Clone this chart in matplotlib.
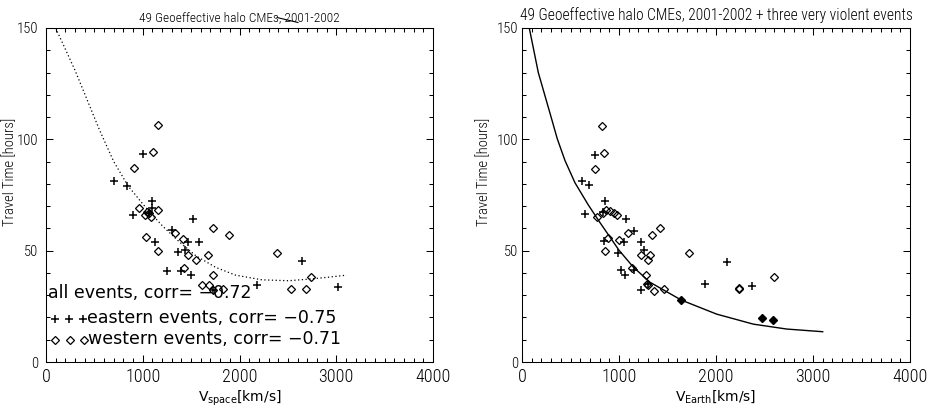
import numpy as np
import matplotlib
matplotlib.use("Agg")
import matplotlib.pyplot as plt
from matplotlib.lines import Line2D
from matplotlib import font_manager

plt.rcParams['font.family'] = ['DejaVu Sans']

# narrow face for the axis texts, if one is installed
names = {f.name for f in font_manager.fontManager.ttflist}
narrow = [n for n in ['Liberation Sans Narrow', 'DejaVu Sans Condensed',
                      'Roboto Condensed', 'Open Sans Condensed'] if n in names]
NFONT = narrow[:1] + ['DejaVu Sans']

# ---- left panel: v_space vs travel time (hours)
left_east_v = [1006, 703, 837, 1096, 1096, 896, 1060, 1519, 1302, 1127, 1464,
               1581, 1361, 1437, 2650, 1247, 1392, 1499, 2184, 3018, 1726]
left_east_t = [93.5, 81.4, 79.1, 72.5, 69.0, 66.2, 67.0, 64.4, 59.3, 54.1, 54.1,
               54.1, 49.2, 50.3, 45.2, 41.0, 41.0, 39.0, 34.8, 33.9, 32.3]
left_west_v = [1154, 1109, 913, 965, 1158, 1041, 1068, 1082, 1723, 1892, 1337,
               1034, 1419, 1154, 1468, 1678, 1554, 2388, 1426, 1730, 1616, 1688,
               2739, 1833, 1726, 2536, 2684, 1020]
left_west_t = [106.3, 94.3, 87.2, 69.2, 68.3, 67.3, 66.8, 65.3, 60.2, 57.1, 58.1,
               56.2, 55.1, 50.0, 48.0, 48.2, 45.9, 49.0, 42.0, 39.0, 34.8, 34.8,
               38.0, 33.0, 32.3, 33.0, 33.0, 66.0]
# dotted fit curve
left_fit_v = [100, 300, 555, 700, 850, 1000, 1100, 1206, 1377, 1549, 1754,
              1960, 2233, 2508, 2713, 2900, 3107]
left_fit_t = [150, 131, 104, 90, 79, 71, 66, 61, 54, 47.7, 42.5,
              39.0, 36.9, 36.5, 37.2, 38.0, 39.0]

# ---- right panel: v_earth vs travel time
right_east_v = [756, 615, 691, 859, 653, 1072, 1155, 845, 1052, 1223, 1258,
                990, 2117, 1017, 1155, 1065, 1223, 1887, 2371, 1296, 832]
right_east_t = [93.1, 81.2, 79.3, 72.2, 66.3, 64.0, 58.8, 54.3, 54.0, 54.0, 50.2,
                48.8, 45.1, 41.2, 41.2, 39.0, 32.2, 35.1, 34.2, 34.9, 67.5]
right_west_v = [825, 845, 756, 773, 832, 866, 907, 952, 983, 1093, 1343, 1423,
                883, 1003, 856, 1223, 1320, 1296, 1718, 1137, 1275, 1292, 1300,
                1467, 1361, 2240, 2240, 2598]
right_west_t = [106.0, 94.0, 86.9, 65.2, 67.0, 68.2, 67.8, 67.0, 65.8, 57.9, 57.0,
                60.0, 55.8, 54.8, 49.9, 48.1, 48.1, 45.8, 49.1, 42.0, 39.0, 34.9,
                34.8, 33.0, 32.1, 33.0, 33.3, 38.1]
violent_v = [1639, 2474, 2584]
violent_t = [27.9, 19.8, 18.9]
right_fit_v = [75, 168, 296, 364, 443, 546, 684, 804, 1000, 1148, 1320, 1643,
               2007, 2385, 2729, 3100]
right_fit_t = [150, 130, 110.6, 100.2, 90.5, 80.5, 70.5, 62.6, 50.2, 42.6, 35.8,
               27.8, 21.5, 17.0, 14.8, 13.6]

W, H = 934, 409
fig = plt.figure(figsize=(W / 100, H / 100), dpi=100)
ax1 = fig.add_axes([46 / W, 1 - 362 / H, 387 / W, 334 / H])
ax2 = fig.add_axes([522 / W, 1 - 362 / H, 388 / W, 334 / H])

plus_kw = dict(ls='none', marker='+', ms=5.5, mew=1.1, color='k')
diam_kw = dict(ls='none', marker='D', ms=3.6, mew=0.9, mfc='none', mec='k')
if narrow:
    ysize, xsize, lsize, t1size, t2size = 10.5, 13, 10.5, 9.6, 11.2
else:
    ysize, xsize, lsize, t1size, t2size = 9, 10.5, 8.5, 7.2, 8.2
TW = 'light'


def style_axes(ax, ypad):
    ax.set_xlim(0, 4000)
    ax.set_ylim(0, 150)
    ax.set_xticks([0, 1000, 2000, 3000, 4000])
    ax.set_yticks([0, 50, 100, 150])
    ax.set_xticks(np.arange(0, 4001, 100), minor=True)
    ax.set_yticks(np.arange(0, 151, 10), minor=True)
    ax.tick_params(which='both', direction='in', top=True, right=True,
                   width=0.75)
    ax.tick_params(which='major', length=5)
    ax.tick_params(which='minor', length=2.8)
    ax.tick_params(axis='x', pad=4.5)
    ax.tick_params(axis='y', pad=ypad)
    for lab in ax.get_yticklabels():
        lab.set_family(NFONT)
        lab.set_fontsize(ysize)
        lab.set_fontweight(TW)
    for lab in ax.get_xticklabels():
        lab.set_family(NFONT)
        lab.set_fontsize(xsize)
        lab.set_fontweight(TW)
    for s in ax.spines.values():
        s.set_linewidth(0.75)
    ax.set_ylabel('Travel Time [hours]', fontsize=lsize, family=NFONT,
                  fontweight=TW)


# left
style_axes(ax1, 5.8)
ax1.plot(left_fit_v, left_fit_t, color='k', lw=0.9, ls=(0, (1, 2)))
ax1.plot(left_east_v, left_east_t, **plus_kw)
ax1.plot(left_west_v, left_west_t, **diam_kw)
ax1.set_title('49 Geoeffective halo CMEs, 2001-2002', fontsize=t1size, pad=5,
              family=NFONT, fontweight=TW)
ax1.set_xlabel(r'V$_{\mathrm{space}}$[km/s]', fontsize=10, labelpad=1.5)
ax1.yaxis.set_label_coords(-0.075 if narrow else -0.086, 0.57)

leg_kw = dict(transform=ax1.transAxes, fontsize=12.5, va='baseline', ha='left')
ax1.text(0.004, 0.193, 'all events, corr= \u22120.72', **leg_kw)
ax1.plot([0.023, 0.059, 0.096], [0.130] * 3, transform=ax1.transAxes, **plus_kw)
ax1.text(0.106, 0.118, 'eastern events, corr= \u22120.75', **leg_kw)
ax1.plot([0.023, 0.062, 0.098], [0.066] * 3, transform=ax1.transAxes, **diam_kw)
ax1.text(0.108, 0.053, 'western events, corr= \u22120.71', **leg_kw)

# stray stroke under the left title
fig.add_artist(Line2D([277 / W, 298 / W], [1 - 17.5 / H, 1 - 22.5 / H],
                      transform=fig.transFigure, color='k', lw=0.8))

# right
style_axes(ax2, 3)
ax2.plot(right_fit_v, right_fit_t, color='k', lw=1.0)
ax2.plot(right_east_v, right_east_t, **plus_kw)
ax2.plot(right_west_v, right_west_t, **diam_kw)
ax2.plot(violent_v, violent_t, ls='none', marker='D', ms=4.2, color='k')
ax2.set_title('49 Geoeffective halo CMEs, 2001-2002 + three very violent events',
              fontsize=t2size, pad=5.5, family=NFONT, fontweight=TW)
ax2.set_xlabel(r'V$_{\mathrm{Earth}}$[km/s]', fontsize=10, labelpad=1.5)
ax2.yaxis.set_label_coords(-0.08 if narrow else -0.082, 0.57)

fig.savefig('out.png', dpi=100)
